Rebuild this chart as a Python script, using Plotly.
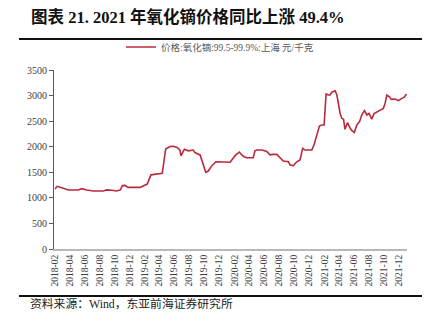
import plotly.graph_objects as go

# 氧化镝 99.5-99.9% 上海 报价（元/千克）
dates = [
    "2018-02-01", "2018-02-10", "2018-03-07", "2018-03-27", "2018-05-07",
    "2018-05-21", "2018-06-10", "2018-07-07", "2018-08-16", "2018-08-30",
    "2018-09-20", "2018-10-09", "2018-10-25", "2018-11-02", "2018-11-12",
    "2018-11-25", "2019-01-13", "2019-01-26", "2019-02-11", "2019-02-26",
    "2019-04-04", "2019-04-13", "2019-04-27", "2019-05-15", "2019-05-27",
    "2019-06-11", "2019-06-24", "2019-06-28", "2019-07-12", "2019-07-28",
    "2019-08-17", "2019-08-24", "2019-09-14", "2019-09-23", "2019-10-07",
    "2019-10-17", "2019-10-31", "2019-11-17", "2019-12-11", "2020-01-14",
    "2020-01-23", "2020-02-06", "2020-02-21", "2020-03-01", "2020-03-11",
    "2020-03-22", "2020-04-17", "2020-04-24", "2020-05-01", "2020-05-22",
    "2020-06-11", "2020-06-24", "2020-07-07", "2020-07-22", "2020-08-04",
    "2020-08-17", "2020-09-07", "2020-09-14", "2020-09-27", "2020-10-11",
    "2020-10-24", "2020-11-04", "2020-11-14", "2020-12-11", "2020-12-20",
    "2020-12-31", "2021-01-11", "2021-01-21", "2021-01-30", "2021-02-03",
    "2021-02-07", "2021-02-16", "2021-02-23", "2021-03-02", "2021-03-16",
    "2021-03-23", "2021-03-29", "2021-04-05", "2021-04-12", "2021-04-19",
    "2021-04-25", "2021-05-05", "2021-05-16", "2021-05-23", "2021-06-02",
    "2021-06-12", "2021-06-23", "2021-07-02", "2021-07-13", "2021-07-23",
    "2021-08-01", "2021-08-12", "2021-08-21", "2021-09-04", "2021-09-15",
    "2021-09-28", "2021-10-05", "2021-10-12", "2021-10-23", "2021-10-30",
    "2021-11-15", "2021-11-28", "2021-12-12", "2021-12-21", "2021-12-31",
]
prices = [
    1175, 1225, 1190, 1155, 1155,
    1180, 1155, 1135, 1135, 1155,
    1150, 1135, 1155, 1240, 1245,
    1205, 1205, 1240, 1270, 1450,
    1465, 1480, 1955, 2005, 2010,
    1990, 1935, 1820, 1950, 1920,
    1935, 1885, 1840, 1705, 1500,
    1525, 1625, 1705, 1700, 1695,
    1755, 1840, 1895, 1840, 1805,
    1785, 1785, 1920, 1935, 1935,
    1905, 1840, 1850, 1850, 1785,
    1720, 1705, 1640, 1630, 1705,
    1740, 1970, 1935, 1935, 2035,
    2210, 2405, 2425, 2425, 2715,
    3030, 3010, 3010, 3065, 3095,
    3010, 2815, 2650, 2555, 2535,
    2340, 2470, 2360, 2315, 2280,
    2425, 2490, 2620, 2705, 2620,
    2650, 2540, 2650, 2685, 2715,
    2750, 2850, 3010, 2975, 2925,
    2930, 2900, 2945, 2965, 3030,
]

series_name = "价格:氧化镝:99.5-99.9%:上海 元/千克"
title_text = "<b>图表 21. 2021 年氧化镝价格同比上涨 49.4%</b>"
source_text = "资料来源：Wind，东亚前海证券研究所"

serif = "Liberation Serif, Times New Roman, Noto Sans CJK SC, serif"

fig = go.Figure()
fig.add_trace(go.Scatter(
    x=dates, y=prices, mode="lines", name=series_name,
    line=dict(color="#b92b3c", width=1.6),
))

# plot area spans x 54..407 px, y 70..249 px
W, H = 438, 323
L, R, T, B = 54, 407, 70, 249


def px(xp):
    return (xp - L) / (R - L)


def py(yp):
    return (B - yp) / (B - T)


fig.update_layout(
    width=W, height=H,
    margin=dict(l=L, r=W - R, t=T, b=H - B),
    paper_bgcolor="white", plot_bgcolor="white",
    showlegend=True,
    legend=dict(
        x=px(121), y=py(47), xanchor="left", yanchor="middle",
        orientation="h", bgcolor="rgba(0,0,0,0)",
        font=dict(family=serif, size=9.5, color="#595959"),
    ),
    xaxis=dict(
        type="date",
        range=["2018-01-28", "2022-01-02"],
        tick0="2018-02-01", dtick="M2", tickformat="%Y-%m",
        tickangle=-90, ticks="",
        showgrid=False, zeroline=False,
        showline=True, linecolor="#b8b8b8", linewidth=2,
        tickfont=dict(family=serif, size=9.5, color="#404040"),
    ),
    yaxis=dict(
        range=[0, 3500], dtick=500, tick0=0,
        ticks="outside", ticklen=4, tickcolor="#595959",
        showgrid=False, zeroline=False,
        showline=True, linecolor="#595959", linewidth=1,
        tickfont=dict(family=serif, size=10, color="#404040"),
    ),
)

fig.add_annotation(
    text=title_text, xref="paper", yref="paper",
    x=px(29), y=py(17), xanchor="left", yanchor="middle",
    showarrow=False,
    font=dict(family="Liberation Serif, Noto Sans CJK SC, serif", size=16.5, color="#111111"),
)
fig.add_annotation(
    text=source_text, xref="paper", yref="paper",
    x=px(28), y=py(304), xanchor="left", yanchor="middle",
    showarrow=False,
    font=dict(family=serif, size=11.8, color="#222222"),
)

for yline in (39, 296):
    fig.add_shape(
        type="line", xref="paper", yref="paper",
        x0=px(19), x1=px(422), y0=py(yline), y1=py(yline),
        line=dict(color="#111111", width=2),
    )

fig.write_html("out.html")
